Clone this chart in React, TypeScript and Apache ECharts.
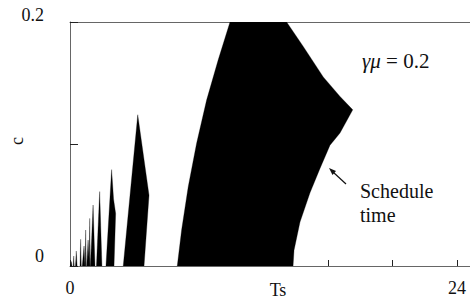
import React, { useEffect, useRef } from "react";
import * as echarts from "echarts";

// Axis ranges and tick labels
const xMin = 0;
const xMax = 24.8;
const xTickStep = 4;
const xLabelValues = [0, 24];
const yMin = 0;
const yMax = 0.2;
const yTickStep = 0.1;
const yLabelValues = [0, 0.2];

// Regions (Ts, c)
const tongue1 = [[0.04, 0], [0.08, 0.0037], [0.12, 0]];
const tongue2 = [[0.2, 0], [0.23, 0.0082], [0.26, 0]];
const tongue3 = [[0.34, 0], [0.39, 0.0123], [0.44, 0]];
const tongue4 = [[0.62, 0], [0.66, 0.0219], [0.7, 0]];
const tongue5 = [[0.76, 0], [0.87, 0.0164], [0.93, 0]];
const tongue6 = [[0.94, 0], [0.97, 0.0295], [1.01, 0]];
const tongue7 = [[1.04, 0], [1.12, 0.0213], [1.21, 0]];
const tongue8 = [[1.19, 0], [1.22, 0.039], [1.26, 0]];
const tongue9 = [[1.27, 0], [1.43, 0.05], [1.55, 0]];
const tongue10 = [[1.64, 0], [1.84, 0.061], [1.98, 0]];
const tongue11 = [[2.23, 0], [2.58, 0.079], [2.7, 0.055], [2.83, 0.043], [2.73, 0]];
const tongue12 = [[3.3, 0], [4.2, 0.124], [4.9, 0.058], [4.75, 0.03], [4.59, 0]];
const mainRegion = [
  [6.65, 0], [6.92, 0.0295], [7.33, 0.065], [7.85, 0.1006], [8.47, 0.136],
  [9.19, 0.169], [9.92, 0.2], [13.43, 0.2], [14.46, 0.18], [15.7, 0.155],
  [16.74, 0.139], [17.53, 0.128], [16.74, 0.109], [16.12, 0.099], [15.5, 0.08],
  [14.88, 0.06], [14.26, 0.036], [13.89, 0.013], [13.83, 0],
];
const regions = [
  tongue1, tongue2, tongue3, tongue4, tongue5, tongue6, tongue7,
  tongue8, tongue9, tongue10, tongue11, tongue12, mainRegion,
];

const FONT = "Liberation Serif";
const AXIS_COLOR = "#666";

export default function App() {
  const ref = useRef<HTMLDivElement>(null);
  useEffect(() => {
    document.body.style.margin = "0";
    const chart = echarts.init(ref.current!, null, { renderer: "svg" });
    const series = regions.map((pts) => ({
      type: "custom",
      xAxisIndex: 0,
      yAxisIndex: 0,
      clip: true,
      silent: true,
      data: pts,
      renderItem: (params: any, api: any) => {
        if (params.dataIndex !== 0) return null;
        return {
          type: "polygon",
          shape: { points: pts.map((p) => api.coord(p)) },
          style: { fill: "#000", stroke: "#000", lineWidth: 0.3 },
        };
      },
    }));
    chart.setOption({
      animation: false,
      textStyle: { fontFamily: FONT },
      grid: { left: 70, top: 22, right: 0, height: 244 },
      xAxis: [
        {
          type: "value",
          position: "bottom",
          min: xMin,
          max: xMax,
          interval: xTickStep,
          splitLine: { show: false },
          axisLine: { show: true, lineStyle: { color: AXIS_COLOR, width: 1 } },
          axisTick: { show: true, inside: true, length: 6, lineStyle: { color: "#222" } },
          axisLabel: {
            showMinLabel: true,
            showMaxLabel: false,
            margin: 13,
            fontFamily: FONT,
            fontSize: 18,
            color: "#111",
            formatter: (v: number) => (xLabelValues.some((x) => Math.abs(x - v) < 1e-6) ? String(v) : ""),
          },
        },
        {
          type: "value",
          position: "top",
          min: xMin,
          max: xMax,
          axisLine: { show: true, onZero: false, lineStyle: { color: AXIS_COLOR, width: 1 } },
          axisTick: { show: false },
          axisLabel: { show: false },
          splitLine: { show: false },
        },
      ],
      yAxis: {
        type: "value",
        min: yMin,
        max: yMax,
        interval: yTickStep,
        splitLine: { show: false },
        axisLine: { show: true, lineStyle: { color: AXIS_COLOR, width: 1 } },
        axisTick: { show: true, inside: true, length: 8, lineStyle: { color: "#222" } },
        axisLabel: {
          margin: 26,
          align: "right",
          fontFamily: FONT,
          fontSize: 18,
          color: "#111",
          formatter: (v: number) => {
            if (!yLabelValues.some((y) => Math.abs(y - v) < 1e-9)) return "";
            return v === 0 ? "{a|0}" : "{b|" + String(v) + "}";
          },
          rich: {
            a: { fontFamily: FONT, fontSize: 18, color: "#111", padding: [0, 0, 20, 0] },
            b: { fontFamily: FONT, fontSize: 18, color: "#111", padding: [0, 0, 14, 0] },
          },
        },
      },
      graphic: [
        {
          type: "text",
          x: 278,
          y: 290,
          style: { text: "Ts", fontFamily: FONT, fontSize: 18, fill: "#111", align: "center", verticalAlign: "middle" },
        },
        {
          type: "text",
          x: 17,
          y: 141,
          rotation: Math.PI / 2,
          style: { text: "c", fontFamily: FONT, fontSize: 18, fill: "#111", align: "center", verticalAlign: "middle" },
        },
        {
          type: "text",
          x: 362,
          y: 61,
          style: {
            text: "{i|γμ} = 0.2",
            fontFamily: FONT,
            fontSize: 21,
            fill: "#111",
            verticalAlign: "middle",
            rich: { i: { fontStyle: "italic", fontFamily: FONT, fontSize: 21, fill: "#111" } },
          },
        },
        {
          type: "text",
          x: 360,
          y: 179,
          style: { text: "Schedule\ntime", fontFamily: FONT, fontSize: 20, fill: "#111", lineHeight: 24 },
        },
        {
          type: "line",
          shape: { x1: 346, y1: 184, x2: 333, y2: 172 },
          style: { stroke: "#111", lineWidth: 1.2 },
        },
        {
          type: "polygon",
          shape: { points: [[329, 168], [336, 171], [332.5, 175]] },
          style: { fill: "#111" },
        },
      ],
      series,
    });
    return () => chart.dispose();
  }, []);
  return <div ref={ref} style={{ width: 470, height: 299 }} />;
}
